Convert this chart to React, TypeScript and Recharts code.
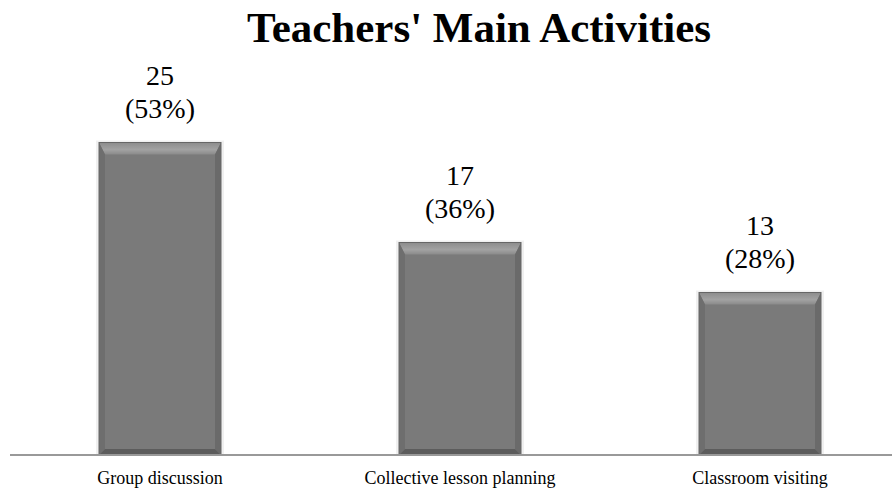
import { BarChart, Bar, XAxis, YAxis, LabelList } from "recharts";

const categories = ["Group discussion", "Collective lesson planning", "Classroom visiting"];
const counts = [25, 17, 13];
const percents = ["53%", "36%", "28%"];

const data = categories.map((name, i) => ({ name, count: counts[i], pct: percents[i] }));

const FONT = "'Times New Roman', 'Liberation Serif', serif";

// bar with a bevelled look
function BevelBar(props: any) {
  const { x, y, width, height } = props;
  if (!height || height <= 0) return null;
  const b = 12;
  const s = 6;
  return (
    <g>
      <rect x={x - 3} y={y - 2} width={width + 6} height={height + 3} fill="#000" opacity={0.06} />
      <rect x={x} y={y} width={width} height={height} fill="#7a7a7a" />
      <polygon
        points={`${x},${y} ${x + width},${y} ${x + width - s},${y + b} ${x + s},${y + b}`}
        fill="url(#bevelTop)"
      />
      <polygon
        points={`${x},${y} ${x + s},${y + b} ${x + s},${y + height - s} ${x},${y + height}`}
        fill="#6e6e6e"
      />
      <polygon
        points={`${x + width},${y} ${x + width - s},${y + b} ${x + width - s},${y + height - s} ${x + width},${y + height}`}
        fill="#6a6a6a"
      />
      <polygon
        points={`${x},${y + height} ${x + s},${y + height - s} ${x + width - s},${y + height - s} ${x + width},${y + height}`}
        fill="#5c5c5c"
      />
      <rect x={x} y={y} width={width} height={height} fill="none" stroke="#666" strokeWidth={1} />
    </g>
  );
}

function TwoLineLabel(props: any) {
  const { x, y, width, index } = props;
  const cx = x + width / 2;
  return (
    <text x={cx} textAnchor="middle" fontFamily={FONT} fontSize={28} fill="#000">
      <tspan x={cx} y={y - 58}>{counts[index]}</tspan>
      <tspan x={cx} y={y - 25}>({percents[index]})</tspan>
    </text>
  );
}

export default function App() {
  return (
    <div style={{ position: "absolute", left: 0, top: 0, width: 892, height: 499, overflow: "hidden", background: "#fff" }}>
      <div
        style={{
          position: "absolute",
          left: 0,
          width: 958,
          top: 2,
          textAlign: "center",
          fontFamily: FONT,
          fontWeight: "bold",
          fontSize: 43,
          color: "#000",
          lineHeight: "52px",
        }}
      >
        Teachers' Main Activities
      </div>
      <BarChart
        width={910}
        height={499}
        data={data}
        margin={{ top: 80, right: 0, left: 10, bottom: 0 }}
        barCategoryGap={89}
      >
        <defs>
          <linearGradient id="bevelTop" x1="0" y1="0" x2="0" y2="1">
            <stop offset="0%" stopColor="#8c8c8c" />
            <stop offset="60%" stopColor="#a2a2a2" />
            <stop offset="100%" stopColor="#8a8a8a" />
          </linearGradient>
        </defs>
        <YAxis hide domain={[0, 30]} />
        <XAxis
          dataKey="name"
          axisLine={{ stroke: "#999", strokeWidth: 2 }}
          tickLine={false}
          interval={0}
          height={44}
          tick={{ fill: "#000", fontSize: 18, fontFamily: FONT, dy: 8 }}
        />
        <Bar dataKey="count" shape={<BevelBar />} isAnimationActive={false}>
          <LabelList dataKey="count" content={<TwoLineLabel />} />
        </Bar>
      </BarChart>
    </div>
  );
}
